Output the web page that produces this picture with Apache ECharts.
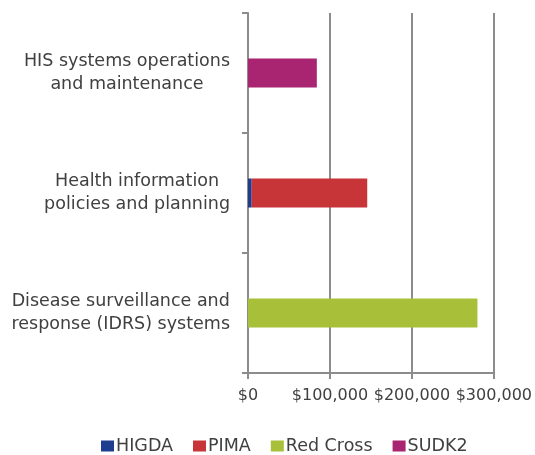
<!DOCTYPE html>
<html><head><meta charset="utf-8">
<script src="https://cdn.jsdelivr.net/npm/echarts@6/dist/echarts.min.js"></script>
<style>html,body{margin:0;padding:0;background:#fff}#c{width:535px;height:455px}</style>
</head><body><div id="c"></div>
<script>
const categories = [
  ['Disease surveillance and', 'response (IDRS) systems'],
  ['Health information', 'policies and planning'],
  ['HIS systems operations', 'and maintenance']
];
const seriesNames = ['HIGDA', 'PIMA', 'Red Cross', 'SUDK2'];
const higda = [0, 4500, 0];
const pima = [0, 141000, 0];
const redCross = [280000, 0, 0];
const sudk2 = [0, 0, 84000];
const xTicks = [0, 100000, 200000, 300000];
const colors = ['#1F3D8E', '#C83538', '#A8BF3A', '#AA2571'];

const font = 'DejaVu Sans';
const values = [higda, pima, redCross, sudk2];
const chart = echarts.init(document.getElementById('c'));
chart.setOption({
  animation: false,
  color: colors,
  textStyle: { fontFamily: font },
  grid: { left: 248, right: 40, top: 13, bottom: 82, containLabel: false },
  legend: {
    top: 432, left: 96, itemWidth: 13, itemHeight: 11, itemGap: 20,
    icon: 'rect',
    textStyle: { fontFamily: font, fontSize: 17.5, color: '#404040', padding: [0, 0, 0, -3] },
    data: seriesNames
  },
  xAxis: {
    type: 'value', min: xTicks[0], max: xTicks[xTicks.length - 1], interval: 100000,
    axisLine: { show: true, lineStyle: { color: '#8c8c8c', width: 2 } },
    axisTick: { show: true, length: 6, lineStyle: { color: '#8c8c8c', width: 2 } },
    splitLine: { show: true, lineStyle: { color: '#8c8c8c', width: 2 } },
    axisLabel: {
      fontFamily: font, fontSize: 16, color: '#404040', margin: 15,
      formatter: v => '$' + v.toLocaleString('en-US')
    }
  },
  yAxis: {
    type: 'category',
    data: categories.map(c => c.join('\n')),
    axisLine: { show: true, lineStyle: { color: '#8c8c8c', width: 2 } },
    axisTick: { show: true, length: 6, lineStyle: { color: '#8c8c8c', width: 2 } },
    axisLabel: {
      margin: 18, align: 'right',
      formatter: v => v.split('\n').map(l => '{a|' + l + '}').join('\n'),
      rich: { a: { fontFamily: font, fontSize: 17.5, color: '#404040', align: 'center', lineHeight: 23 } }
    }
  },
  series: seriesNames.map((n, i) => ({
    name: n, type: 'bar', stack: 'total', barWidth: 29,
    data: values[i]
  }))
});
</script></body></html>
